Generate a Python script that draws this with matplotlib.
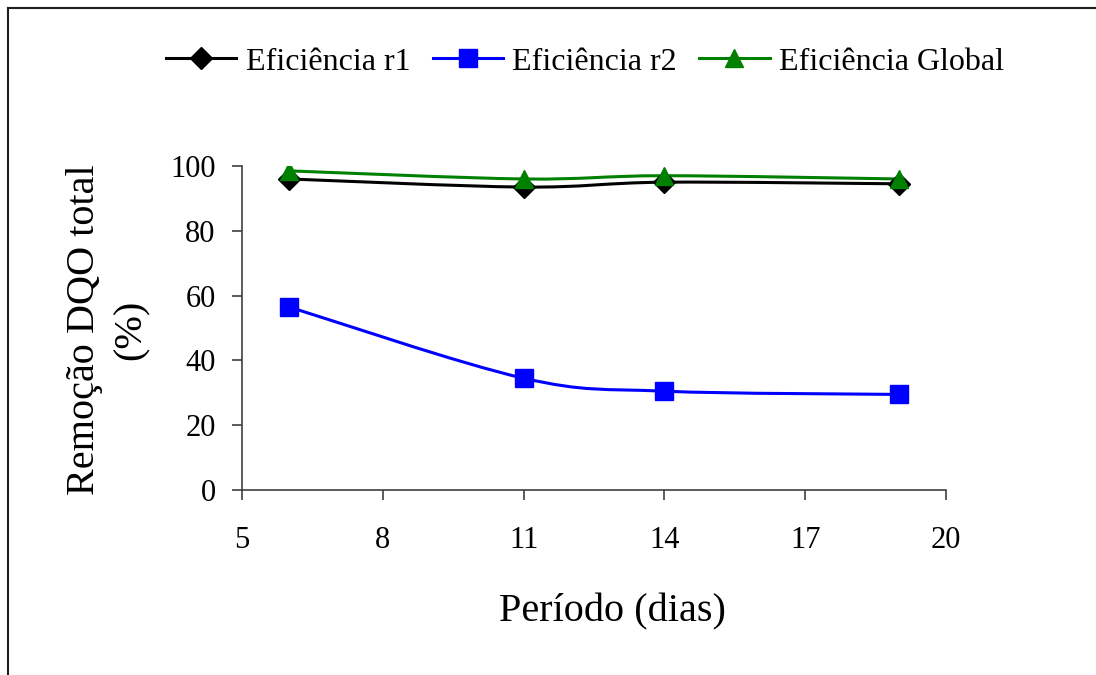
import numpy as np
import matplotlib.pyplot as plt
from matplotlib.path import Path
from matplotlib.patches import PathPatch
from matplotlib.lines import Line2D

plt.rcParams['font.family'] = ['Liberation Serif', 'DejaVu Serif']

# dados
dias = [6, 11, 14, 19]
efic_r1 = [96, 93.5, 95, 94.5]
efic_r2 = [56.5, 34.5, 30.5, 29.5]
efic_global = [98.5, 96, 97, 96]


def smooth_path(x, y):
    # curva suavizada tipo Excel (bezier passando pelos pontos)
    pts = np.column_stack([x, y]).astype(float)
    n = len(pts)
    verts = [pts[0]]
    codes = [Path.MOVETO]
    for i in range(n - 1):
        p0 = pts[max(i - 1, 0)]
        p1 = pts[i]
        p2 = pts[i + 1]
        p3 = pts[min(i + 2, n - 1)]
        verts += [p1 + (p2 - p0) / 6, p2 - (p3 - p1) / 6, p2]
        codes += [Path.CURVE4] * 3
    return Path(verts, codes)


W, H = 1096, 675
fig = plt.figure(figsize=(W / 100, H / 100), dpi=100)
ax = fig.add_axes([242 / W, 1 - 490 / H, (946 - 242) / W, (490 - 166) / H])

series = [
    ("Eficiência r1", efic_r1, "black", "D", 11),
    ("Eficiência r2", efic_r2, "#0000FF", "s", 13),
    ("Eficiência Global", efic_global, "#008000", "^", 13),
]
handles = []
for label, vals, col, mk, ms in series:
    ax.add_patch(PathPatch(smooth_path(dias, vals), facecolor="none",
                           edgecolor=col, lw=2.2, zorder=2))
    ax.plot(dias, vals, linestyle="none", marker=mk, color=col,
            markersize=ms, zorder=3)
    handles.append(Line2D([], [], color=col, lw=2.2, marker=mk, markersize=ms))

ax.set_xlim(5, 20)
ax.set_ylim(0, 100)
ax.set_xticks([5, 8, 11, 14, 17, 20])
ax.set_yticks([0, 20, 40, 60, 80, 100])
for s in ["top", "right"]:
    ax.spines[s].set_visible(False)
for s in ["left", "bottom"]:
    ax.spines[s].set_color("#404040")
    ax.spines[s].set_linewidth(1.2)
ax.tick_params(axis="both", direction="out", length=7, width=1.2,
               color="#404040", labelsize=22)
ax.tick_params(axis="x", pad=19)
ax.tick_params(axis="y", pad=12)

fig.text(612 / W, 1 - 612 / H, "Período (dias)", ha="center", va="center",
         fontsize=29)
fig.text(108 / W, 1 - 330 / H, "Remoção DQO total\n(%)", ha="center",
         va="center", rotation=90, fontsize=29, linespacing=1.35)

fig.legend(handles, [s[0] for s in series], loc="center",
           bbox_to_anchor=(585 / W, 1 - 62 / H), ncol=3, frameon=False,
           fontsize=23, handlelength=2.2, handletextpad=0.3,
           columnspacing=0.7)

# moldura
fig.add_artist(Line2D([8 / W, 8 / W], [0, 1 - 8 / H], color="#202020", lw=1.5))
fig.add_artist(Line2D([8 / W, 1], [1 - 8 / H, 1 - 8 / H], color="#202020", lw=1.5))

fig.savefig("out.png", dpi=100)
